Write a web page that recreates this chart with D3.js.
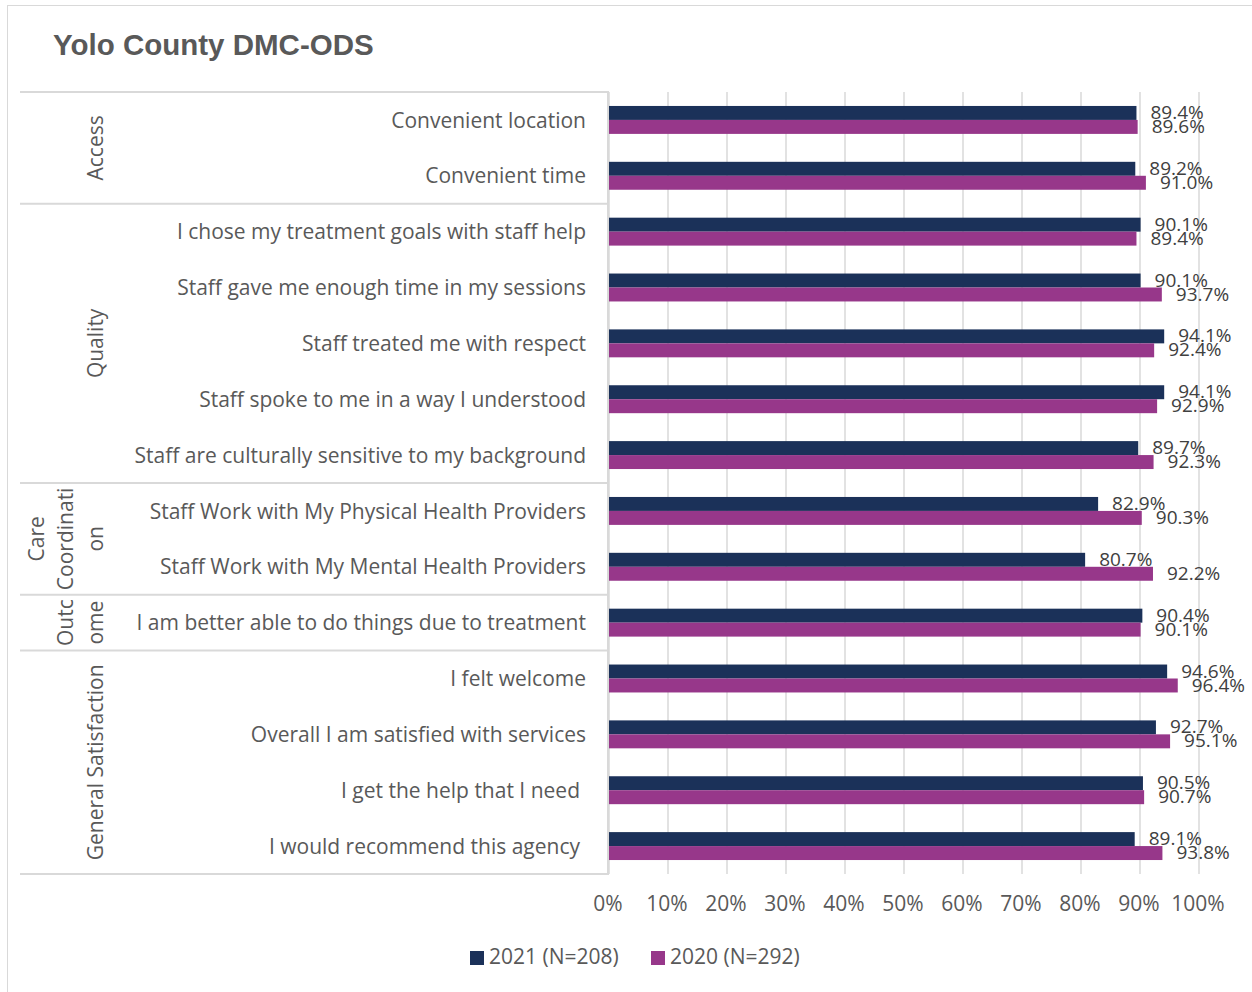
<!DOCTYPE html>
<html><head><meta charset="utf-8">
<script src="https://cdn.jsdelivr.net/npm/d3@7"></script>
<style>body{margin:0;background:#fff}</style>
</head><body>
<script>
const categories = [
  "Convenient location","Convenient time",
  "I chose my treatment goals with staff help","Staff gave me enough time in my sessions",
  "Staff treated me with respect","Staff spoke to me in a way I understood",
  "Staff are culturally sensitive to my background",
  "Staff Work with My Physical Health Providers","Staff Work with My Mental Health Providers",
  "I am better able to do things due to treatment",
  "I felt welcome","Overall I am satisfied with services","I get the help that I need","I would recommend this agency"
];
const groups = [
  {name:["Access"], start:0, count:2},
  {name:["Quality"], start:2, count:5},
  {name:["Care","Coordinati","on"], start:7, count:2},
  {name:["Outc","ome"], start:9, count:1},
  {name:["General Satisfaction"], start:10, count:4}
];
const seriesNames = ["2021 (N=208)","2020 (N=292)"];
const values2021 = [89.4,89.2,90.1,90.1,94.1,94.1,89.7,82.9,80.7,90.4,94.6,92.7,90.5,89.1];
const values2020 = [89.6,91.0,89.4,93.7,92.4,92.9,92.3,90.3,92.2,90.1,96.4,95.1,90.7,93.8];
const ticks = [0,10,20,30,40,50,60,70,80,90,100];
const colors = ["#1B3159","#97378A"];

const W=1252,H=992;
const svg=d3.select("body").append("svg").attr("width",W).attr("height",H);
const font="'Open Sans', sans-serif";
const textCol="#595959";

svg.append("rect").attr("x",7.5).attr("y",5.5).attr("width",1252).attr("height",992).attr("fill","#fff").attr("stroke","#d9d9d9");

svg.append("text").attr("x",53).attr("y",55).text("Yolo County DMC-ODS")
  .attr("font-family","'Liberation Sans', Arial, sans-serif").attr("font-weight","bold").attr("font-size",29.5).attr("fill",textCol);

const x=d3.scaleLinear().domain([0,100]).range([609,1199]);
const y=d3.scaleBand().domain(d3.range(categories.length)).range([92,874]);
const bw=y.bandwidth();
const ys=d3.scaleBand().domain([0,1]).range([bw*0.25,bw*0.75]);

// gridlines
svg.append("g").selectAll("line").data(ticks).join("line")
  .attr("x1",d=>x(d)).attr("x2",d=>x(d)).attr("y1",92).attr("y2",874)
  .attr("stroke","#d9d9d9").attr("stroke-width",1.5);

// table lines
const tbl=svg.append("g").attr("stroke","#d9d9d9").attr("stroke-width",2);
const seps=[0].concat(groups.map(g=>g.start+g.count));
tbl.selectAll("line.h").data(seps).join("line").attr("class","h")
  .attr("x1",20).attr("x2",609).attr("y1",d=>d===categories.length? 874 : y(d)).attr("y2",d=>d===categories.length?874:y(d));
tbl.append("line").attr("x1",608).attr("x2",608).attr("y1",92).attr("y2",874);

// bars
const data=[values2021,values2020];
data.forEach((vals,si)=>{
  svg.append("g").selectAll("rect").data(vals).join("rect")
    .attr("x",x(0)).attr("y",(d,i)=>y(i)+ys(si)).attr("width",d=>x(d)-x(0)).attr("height",ys.bandwidth())
    .attr("fill",colors[si]);
  svg.append("g").selectAll("text").data(vals).join("text")
    .attr("x",d=>x(d)+14).attr("y",(d,i)=>y(i)+ys(si)+ys.bandwidth()/2+1)
    .attr("dominant-baseline","middle")
    .attr("font-family",font).attr("font-size",19).attr("fill","#404040")
    .text(d=>d.toFixed(1)+"%");
});

// category labels
svg.append("g").selectAll("text").data(categories).join("text")
  .attr("x",(d,i)=>i>=12?580:586).attr("y",(d,i)=>y(i)+bw/2+2)
  .attr("text-anchor","end").attr("dominant-baseline","middle")
  .attr("font-family",font).attr("font-size",21).attr("fill",textCol).text(d=>d);

// group labels
groups.forEach(g=>{
  const cy=y(g.start)+g.count*bw/2;
  const n=g.name.length;
  g.name.forEach((t,k)=>{
    const cx=97-(n-1-k)*29.5;
    svg.append("text").attr("transform",`translate(${cx},${cy}) rotate(-90)`)
      .attr("text-anchor","middle").attr("dominant-baseline","middle")
      .attr("font-family",font).attr("font-size",21).attr("fill",textCol).text(t);
  });
});

// x tick labels
svg.append("g").selectAll("text").data(ticks).join("text")
  .attr("x",d=>x(d)-1).attr("y",905).attr("text-anchor","middle").attr("dominant-baseline","middle")
  .attr("font-family",font).attr("font-size",21).attr("fill",textCol).text(d=>d+"%");

// legend
const lx=[470,651];
seriesNames.forEach((s,i)=>{
  svg.append("rect").attr("x",lx[i]).attr("y",951).attr("width",14).attr("height",14).attr("fill",colors[i]);
  svg.append("text").attr("x",lx[i]+19).attr("y",958).attr("dominant-baseline","middle")
    .attr("font-family",font).attr("font-size",21).attr("fill",textCol).text(s);
});
</script>
</body></html>
